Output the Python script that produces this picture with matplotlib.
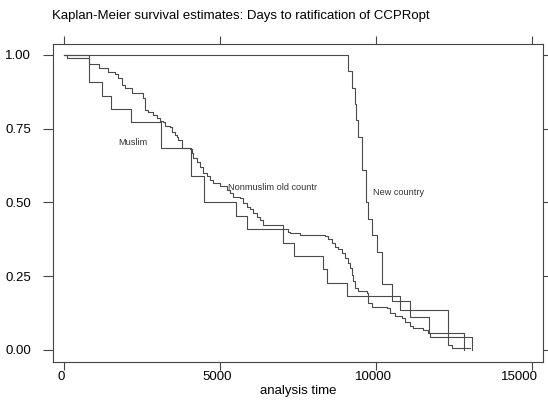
import matplotlib
matplotlib.use('Agg')
import matplotlib.pyplot as plt
import matplotlib.transforms as mtransforms

plt.rcParams['font.family'] = ['Liberation Sans', 'DejaVu Sans']

# Kaplan-Meier step points (time in days, survival after the step)
muslim_t = [0, 801, 1199, 1497, 2138, 3090, 4061, 4478, 5494, 5866, 7020,
            7362, 8281, 8430, 9050, 10760, 12288, 12417, 13003]
muslim_s = [1.0, 0.909, 0.862, 0.817, 0.772, 0.684, 0.591, 0.5, 0.455, 0.409,
            0.364, 0.318, 0.273, 0.227, 0.182, 0.136, 0.016, 0.007, 0.007]

nonmuslim_t = [0, 87, 802, 1123, 1411, 1625, 1732, 1839, 1946, 2159, 2512,
               2587, 2693, 2854, 2960, 3067, 3174, 3228, 3388, 3441, 3548,
               3601, 3655, 3762, 4029, 4082, 4135, 4242, 4349, 4456, 4563,
               4670, 4776, 4990, 5204, 5311, 5417, 5631, 5738, 5845, 5952,
               6058, 6165, 6272, 6379, 7020, 7181, 7234, 7554, 8356, 8462,
               8569, 8676, 8783, 8890, 8997, 9104, 9157, 9210, 9264, 9317,
               9424, 9691, 9745, 9852, 10332, 10439, 10599, 10813, 10920,
               11080, 11187, 11507, 11667, 11721, 13078]
nonmuslim_s = [1.0, 0.990, 0.968, 0.957, 0.943, 0.934, 0.921, 0.898, 0.887,
               0.872, 0.853, 0.814, 0.808, 0.797, 0.785, 0.777, 0.771, 0.759,
               0.755, 0.740, 0.729, 0.721, 0.712, 0.684, 0.680, 0.667, 0.650,
               0.638, 0.621, 0.599, 0.588, 0.576, 0.565, 0.554, 0.542, 0.531,
               0.520, 0.514, 0.497, 0.486, 0.477, 0.463, 0.452, 0.441, 0.424,
               0.409, 0.401, 0.395, 0.390, 0.386, 0.375, 0.362, 0.350, 0.341,
               0.328, 0.311, 0.294, 0.277, 0.254, 0.232, 0.209, 0.198, 0.192,
               0.158, 0.147, 0.141, 0.124, 0.115, 0.107, 0.093, 0.081, 0.073,
               0.068, 0.056, 0.045, 0.0]

newc_t = [0, 9093, 9232, 9317, 9349, 9424, 9531, 9670, 9745, 9852, 10012,
          10172, 10492, 11080, 11700, 12810]
newc_s = [1.0, 0.944, 0.889, 0.833, 0.778, 0.722, 0.611, 0.5, 0.444, 0.389,
          0.333, 0.222, 0.167, 0.111, 0.056, 0.0]

# label positions (data coords)
labels = ['Muslim', 'Nonmuslim old countr', 'New country']
label_x = [1731, 5237, 9885]
label_y = [0.703, 0.551, 0.533]

xticks = [0, 5000, 10000, 15000]
yticks = [0.0, 0.25, 0.5, 0.75, 1.0]

fig = plt.figure(figsize=(5.48, 4.01), dpi=100)
ax = fig.add_axes([0.0962, 0.098, 0.8952, 0.7915])

lc = '#4a4a4a'
for t, s in [(newc_t, newc_s), (muslim_t, muslim_s), (nonmuslim_t, nonmuslim_s)]:
    ax.step(t, s, where='post', color=lc, linewidth=0.8)

for txt, x, y in zip(labels, label_x, label_y):
    ax.text(x, y, txt, fontsize=6.6, color='#333333', ha='left', va='center')

ax.set_xlim(-372, 15353)
ax.set_ylim(-0.040, 1.036)
ax.set_xticks(xticks)
ax.set_xticklabels([str(v) for v in xticks])
ax.set_yticks(yticks)
ax.set_yticklabels(['%.2f' % v for v in yticks])

ax.tick_params(axis='both', direction='out', colors='#444444', labelcolor='black',
               labelsize=9.5, width=0.8)
ax.tick_params(axis='x', length=6, pad=1, top=True, labeltop=False)
ax.tick_params(axis='y', length=7.5, pad=8, right=True, labelright=False)

# stata keeps the last label inside the graph, nudge labels left a bit
shifts = [-3, -3, -3, -13]
for lab, dx in zip(ax.get_xticklabels(), shifts):
    lab.set_transform(lab.get_transform() +
                      mtransforms.ScaledTranslation(dx / 100, 0, fig.dpi_scale_trans))

for sp in ax.spines.values():
    sp.set_color('#444444')
    sp.set_linewidth(0.8)

ax.set_xlabel('analysis time', fontsize=9.5, labelpad=1)

fig.text(0.0954, 0.961, 'Kaplan-Meier survival estimates: Days to ratification of CCPRopt',
         fontsize=9.5, ha='left', va='center')

fig.savefig('out.png', dpi=100)
